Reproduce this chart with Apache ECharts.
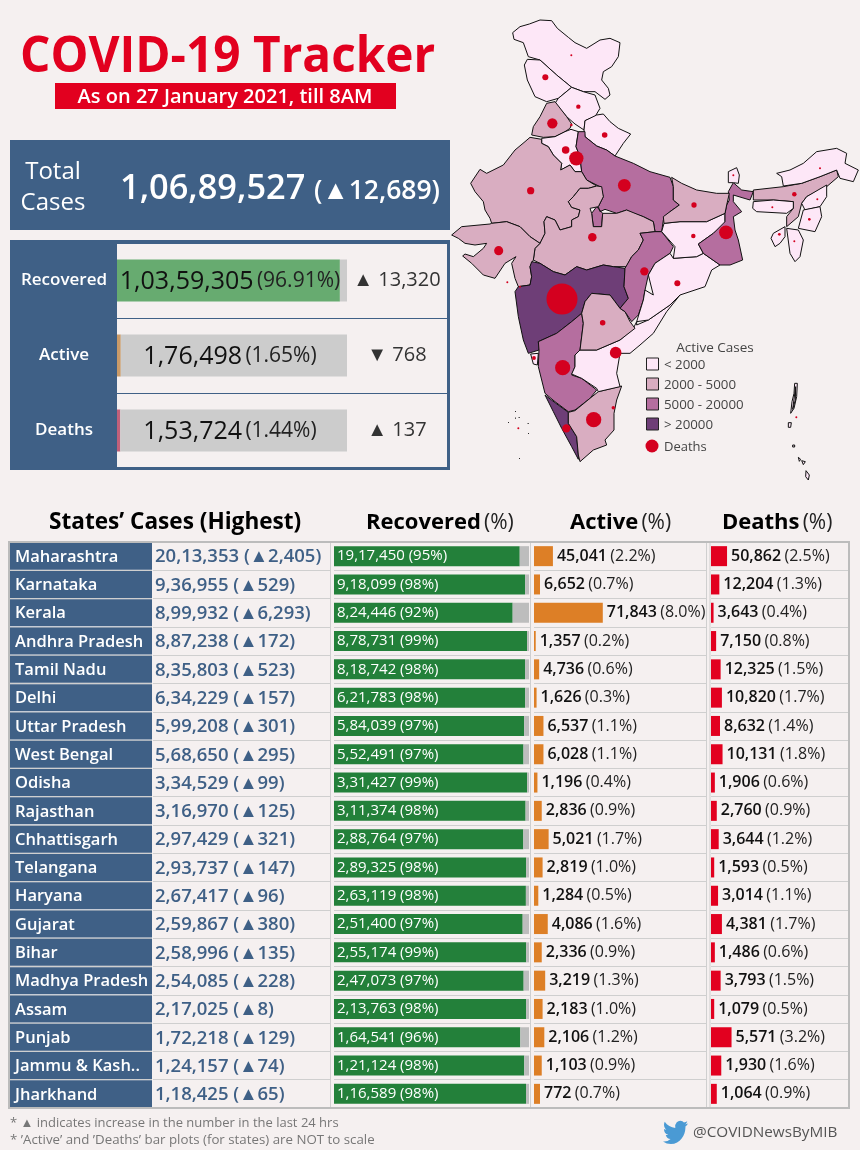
<!DOCTYPE html>
<html>
<head>
<meta charset="utf-8">
<title>COVID-19 Tracker</title>
<style>
html, body { margin: 0; padding: 0; background: #f5f0f0; }
#main { width: 860px; height: 1150px; }
</style>
<script src="https://cdn.jsdelivr.net/npm/echarts@6/dist/echarts.min.js"></script>
</head>
<body>
<div id="main"></div>
<script>
// summary block
var summaryNames = ['Recovered', 'Active', 'Deaths'];
var summaryCounts = [10359305, 176498, 153724];
var summaryPct = [96.91, 1.65, 1.44];
var summaryDelta = ['▲ 13,320', '▼ 768', '▲ 137'];

// states table
var states = ['Maharashtra', 'Karnataka', 'Kerala', 'Andhra Pradesh', 'Tamil Nadu', 'Delhi', 'Uttar Pradesh', 'West Bengal', 'Odisha', 'Rajasthan', 'Chhattisgarh', 'Telangana', 'Haryana', 'Gujarat', 'Bihar', 'Madhya Pradesh', 'Assam', 'Punjab', 'Jammu & Kash..', 'Jharkhand'];
var totals = [2013353, 936955, 899932, 887238, 835803, 634229, 599208, 568650, 334529, 316970, 297429, 293737, 267417, 259867, 258996, 254085, 217025, 172218, 124157, 118425];
var totalDelta = [2405, 529, 6293, 172, 523, 157, 301, 295, 99, 125, 321, 147, 96, 380, 135, 228, 8, 129, 74, 65];
var recovered = [1917450, 918099, 824446, 878731, 818742, 621783, 584039, 552491, 331427, 311374, 288764, 289325, 263119, 251400, 255174, 247073, 213763, 164541, 121124, 116589];
var recoveredPct = [95, 98, 92, 99, 98, 98, 97, 97, 99, 98, 97, 98, 98, 97, 99, 97, 98, 96, 98, 98];
var active = [45041, 6652, 71843, 1357, 4736, 1626, 6537, 6028, 1196, 2836, 5021, 2819, 1284, 4086, 2336, 3219, 2183, 2106, 1103, 772];
var activePct = [2.2, 0.7, 8.0, 0.2, 0.6, 0.3, 1.1, 1.1, 0.4, 0.9, 1.7, 1.0, 0.5, 1.6, 0.9, 1.3, 1.0, 1.2, 0.9, 0.7];
var deaths = [50862, 12204, 3643, 7150, 12325, 10820, 8632, 10131, 1906, 2760, 3644, 1593, 3014, 4381, 1486, 3793, 1079, 5571, 1930, 1064];
var deathsPct = [2.5, 1.3, 0.4, 0.8, 1.5, 1.7, 1.4, 1.8, 0.6, 0.9, 1.2, 0.5, 1.1, 1.7, 0.6, 1.5, 0.5, 3.2, 1.6, 0.9];

// map: active cases per region (small regions are estimates)
var mapRegions = ['Ladakh', 'Jammu & Kashmir', 'Himachal Pradesh', 'Punjab', 'Uttarakhand', 'Haryana', 'Delhi', 'Uttar Pradesh', 'Rajasthan', 'Madhya Pradesh', 'Gujarat', 'Maharashtra', 'Goa', 'Karnataka', 'Kerala', 'Tamil Nadu', 'Andhra Pradesh', 'Telangana', 'Chhattisgarh', 'Odisha', 'Jharkhand', 'West Bengal', 'Sikkim', 'Bihar', 'Assam', 'Meghalaya', 'Arunachal Pradesh', 'Nagaland', 'Manipur', 'Mizoram', 'Tripura', 'Andaman & Nicobar', 'Lakshadweep'];
var mapActive = [150, 1103, 400, 2106, 1500, 1284, 1626, 6537, 2836, 3219, 4086, 45041, 700, 6652, 71843, 4736, 1357, 2819, 5021, 1196, 772, 6028, 200, 2336, 2183, 200, 30, 100, 400, 50, 40, 20, 50];

// map: death bubbles, spot is in the map's own traced units
var deathPlaces = ['Ladakh', 'Jammu & Kashmir', 'Himachal Pradesh', 'Punjab', 'Chandigarh', 'Uttarakhand', 'Haryana', 'Delhi', 'Rajasthan', 'Uttar Pradesh', 'Bihar', 'Sikkim', 'Arunachal Pradesh', 'Assam', 'Nagaland', 'Meghalaya', 'Manipur', 'Tripura', 'Mizoram', 'Jharkhand', 'West Bengal', 'Madhya Pradesh', 'Gujarat', 'Daman', 'Dadra', 'Maharashtra', 'Chhattisgarh', 'Odisha', 'Telangana', 'Andhra Pradesh', 'Goa', 'Karnataka', 'Puducherry', 'Tamil Nadu', 'Kerala', 'Lakshadweep', 'Andaman & Nicobar'];
var deathSpots = [[394, 166], [316, 232], [415, 320], [337, 370], [394, 375], [494, 405], [377, 450], [409, 475], [272, 572], [553, 556], [762, 615], [880, 526], [1140, 505], [1063, 583], [1132, 598], [997, 622], [1108, 658], [1018, 703], [1063, 724], [760, 708], [858, 697], [457, 712], [176, 752], [202, 847], [240, 860], [366, 897], [613, 814], [712, 850], [488, 968], [527, 1058], [282, 1074], [368, 1103], [520, 1223], [461, 1259], [379, 1285], [235, 1285], [1069, 1252]];
var deathCounts = [130, 1930, 1030, 5571, 350, 1650, 3014, 10820, 2760, 8632, 1486, 135, 56, 1079, 90, 147, 370, 388, 20, 1064, 10131, 3793, 4381, 20, 20, 50862, 3644, 1906, 1593, 7150, 770, 12204, 650, 12325, 3643, 20, 62];

var legendLabels = ['< 2000', '2000 - 5000', '5000 - 20000', '> 20000'];
var legendColors = ['#fde7f7', '#d9adc1', '#b56e9f', '#6e3e77'];

// traced region outlines, one string per polygon
var regionShapes = {
    'Ladakh': ['218,98 240,80 268,72 300,60 335,62 352,85 385,112 405,128 440,145 480,120 510,115 540,128 535,170 515,200 490,215 485,240 505,265 510,285 495,298 465,275 430,275 395,262 350,225 300,180 265,170 250,128 222,118'],
    'Jammu & Kashmir': ['262,178 300,180 350,225 395,262 355,295 320,305 285,290 262,240 253,195'],
    'Himachal Pradesh': ['395,262 430,275 465,285 480,325 465,350 435,362 432,390 405,372 380,350 345,310 355,295'],
    'Punjab': ['345,305 380,350 395,372 390,385 375,395 345,410 310,412 275,405 280,380 300,350 320,310'],
    'Uttarakhand': ['435,362 470,345 490,342 510,365 535,385 572,402 550,430 525,468 500,450 470,438 435,410 432,390'],
    'Haryana': ['305,415 345,410 375,395 393,388 415,395 408,440 420,470 425,515 405,515 390,495 362,510 365,490 340,465 325,440 305,430'],
    'Delhi': ['403,462 418,462 421,482 406,486'],
    'Uttar Pradesh': ['435,395 435,410 470,438 500,450 525,468 580,490 630,515 690,532 700,560 700,600 718,615 690,635 670,660 665,695 645,695 640,665 610,650 580,640 560,630 530,640 495,628 480,635 475,620 490,590 480,560 440,540 425,515 420,470 408,440 415,395',
        '455,640 470,620 488,640 485,680 460,680'],
    'Rajasthan': ['270,412 305,418 305,430 325,440 340,465 365,490 362,510 390,495 405,515 425,515 440,540 470,558 445,565 420,565 400,590 385,605 395,622 420,630 415,650 395,660 395,680 360,690 345,660 320,650 312,665 315,700 300,730 270,710 240,680 200,665 155,670 150,655 135,630 130,605 105,575 92,550 120,508 140,520 190,495 225,450 255,425'],
    'Madhya Pradesh': ['485,560 490,590 475,620 450,625 455,640 460,680 485,680 488,640 530,640 560,630 610,650 640,665 645,695 600,700 610,720 595,750 575,770 560,800 520,800 490,795 440,810 410,800 375,825 340,815 300,790 280,780 285,745 300,730 315,700 312,665 320,650 345,660 360,690 395,680 395,660 415,650 420,630 395,622 385,605 400,590 420,565 445,565 470,558'],
    'Gujarat': ['35,705 65,680 150,672 155,670 200,665 240,680 270,710 300,730 285,745 280,780 270,800 275,830 270,855 235,860 225,835 215,790 228,770 195,790 165,835 130,825 95,790 68,768 75,762 100,770 130,745 140,730 105,735 75,730 55,715'],
    'Maharashtra': ['275,785 300,790 340,815 375,825 410,800 440,810 490,795 520,800 555,805 552,860 565,895 540,925 525,905 510,885 455,880 435,905 425,940 395,965 350,1000 295,1025 297,1050 265,1060 250,1020 235,950 225,875 235,860 270,855 275,830 270,800'],
    'Goa': ['272,1062 295,1060 292,1095 280,1092'],
    'Karnataka': ['295,1025 350,1000 395,965 425,940 430,970 420,1050 405,1065 405,1100 395,1125 425,1135 470,1170 450,1195 405,1230 385,1235 345,1205 315,1180 295,1100 297,1050'],
    'Kerala': ['315,1185 345,1208 385,1237 385,1270 410,1310 415,1365 415,1378 395,1340 365,1285 340,1235'],
    'Tamil Nadu': ['385,1237 405,1232 450,1195 475,1175 545,1158 530,1200 522,1240 522,1290 495,1320 500,1335 460,1350 420,1385 415,1365 410,1310 385,1270'],
    'Andhra Pradesh': ['590,965 590,975 625,960 690,915 720,885 680,935 640,1000 600,1035 570,1060 540,1060 530,1120 540,1160 475,1175 470,1165 425,1135 395,1122 405,1100 405,1065 420,1050 470,1050 540,1020 580,985'],
    'Telangana': ['455,880 510,885 525,905 540,925 555,935 570,965 585,985 540,1020 470,1050 420,1050 430,970 425,940 435,905'],
    'Chhattisgarh': ['600,700 645,695 665,695 700,740 690,760 645,790 625,825 615,870 610,900 595,945 575,965 555,935 540,925 565,895 552,860 555,805 575,770 595,750 610,720'],
    'Odisha': ['700,775 770,770 790,760 840,795 815,810 795,860 720,885 690,915 625,960 590,965 610,900 615,870 640,885 625,825 645,790 690,760'],
    'Jharkhand': ['672,670 720,665 800,665 855,640 855,670 820,700 775,732 790,760 770,770 700,775 705,740 665,695'],
    'West Bengal': ['820,700 855,665 855,640 860,615 868,600 865,575 880,548 905,570 940,575 930,600 880,585 880,605 905,635 880,650 885,690 895,720 908,780 870,795 840,795 790,760 775,732'],
    'Sikkim': ['865,515 890,503 898,525 895,550 880,548 865,548'],
    'Bihar': ['695,532 725,550 770,570 830,580 868,580 860,615 855,640 800,665 720,665 672,670 670,650 690,635 718,615 700,600 700,560'],
    'Assam': ['940,570 1030,560 1085,550 1140,530 1190,510 1195,530 1160,560 1100,590 1085,610 1075,650 1040,680 1040,650 1060,625 1060,605 1000,600 940,600'],
    'Meghalaya': ['940,605 1000,600 1060,605 1060,625 1040,640 950,635 938,625'],
    'Arunachal Pradesh': ['1010,520 1050,510 1090,490 1130,455 1190,445 1220,460 1215,490 1255,510 1240,545 1200,535 1190,510 1140,530 1085,550 1030,558 1025,530'],
    'Nagaland': ['1160,555 1160,590 1140,620 1095,630 1085,610 1100,590'],
    'Manipur': ['1090,630 1140,620 1145,650 1125,695 1075,685'],
    'Mizoram': ['1040,685 1075,690 1090,720 1080,770 1065,785 1050,760'],
    'Tripura': ['1000,700 1035,680 1035,710 1020,730 1005,740 993,715'],
    'Andaman & Nicobar': ['1064,1150 1072,1150 1070,1190 1062,1225 1052,1240 1056,1205 1062,1180', '1067,1160 1066,1200 1058,1228',
        '1045,1268 1054,1268 1052,1282 1045,1282', '1058,1335 1064,1335 1064,1341 1058,1341',
        '1075,1372 1082,1378 1078,1384', '1085,1382 1096,1385 1090,1394', '1098,1412 1108,1425 1105,1440 1097,1430'],
    'Lakshadweep': ['225,1233 227,1233 227,1235', '237,1252 239,1252 239,1254', '204,1266 206,1266 206,1268', '226,1254 228,1254 228,1256', '264,1270 266,1270 266,1272', '264,1299 266,1299 266,1301', '238,1375 240,1375 240,1377']
};

var BG = '#f5f0f0', BLUE = '#3f6086', RED = '#e2001f', TXT = 'Open Sans';
var BIRD = 'M23.953 4.57a10 10 0 0 1-2.825.775 4.958 4.958 0 0 0 2.163-2.723c-.951.555-2.005.959-3.127 1.184a4.92 4.92 0 0 0-8.384 4.482C7.69 8.095 4.067 6.13 1.64 3.162a4.822 4.822 0 0 0-.666 2.475c0 1.71.87 3.213 2.188 4.096a4.904 4.904 0 0 1-2.228-.616v.06a4.923 4.923 0 0 0 3.946 4.827 4.996 4.996 0 0 1-2.212.085 4.936 4.936 0 0 0 4.604 3.417 9.867 9.867 0 0 1-6.102 2.105c-.39 0-.779-.023-1.17-.067a13.995 13.995 0 0 0 7.557 2.209c9.053 0 13.998-7.496 13.998-13.985 0-.21 0-.42-.015-.63A9.935 9.935 0 0 0 24 4.59z';

function fmt(n) {
    return n.toLocaleString('en-IN');
}

function buildGeoJson() {
    return {
        type: 'FeatureCollection',
        features: mapRegions.map(function (name) {
            return {
                type: 'Feature',
                properties: { name: name },
                geometry: {
                    type: 'MultiPolygon',
                    coordinates: regionShapes[name].map(function (s) {
                        var ring = s.split(' ').map(function (p) {
                            return p.split(',').map(Number);
                        });
                        ring.push(ring[0]);
                        return [ring];
                    })
                }
            };
        })
    };
}

echarts.registerMap('india', buildGeoJson());
echarts.graphic.registerShape('twitterBird', echarts.graphic.extendPath(BIRD, {}));

var myChart = echarts.init(document.getElementById('main'));

// table grids all share the same rows
var TOP = 542, ROWS_H = 566;
var columns = [
    { left: 10, width: 142, max: 1 },
    { left: 153, width: 177, max: 4e7 },
    { left: 334, width: 196, max: 100.5 },
    { left: 534, width: 172, max: 20 },
    { left: 711, width: 138, max: 21.5 }
];

var grids = [
    { left: 117, top: 243, width: 230, height: 225, outerBoundsMode: 'none' },
    { left: 347, top: 243, width: 100, height: 225, outerBoundsMode: 'none' }
];
var xAxes = [
    { gridIndex: 0, type: 'value', min: 0, max: 100, show: false },
    { gridIndex: 1, type: 'value', min: 0, max: 100, show: false }
];
var blueSplit = { show: true, interval: 0, lineStyle: { color: BLUE, width: 1 } };
var yAxes = [
    {
        gridIndex: 0, type: 'category', inverse: true, data: summaryNames,
        axisLine: { show: false }, axisTick: { show: false }, splitLine: blueSplit,
        axisLabel: { interval: 0, color: '#fff', fontFamily: TXT, fontSize: 17, fontWeight: 600, align: 'center', margin: 53, padding: [6, 0, 0, 0] }
    },
    {
        gridIndex: 0, type: 'category', inverse: true, position: 'right', data: summaryDelta,
        axisLine: { show: false }, axisTick: { show: false }, splitLine: { show: false },
        axisLabel: { interval: 0, color: '#333', fontFamily: TXT, fontSize: 20, align: 'center', margin: 50, padding: [6, 0, 0, 0] }
    },
    {
        gridIndex: 1, type: 'category', inverse: true, data: summaryNames,
        axisLine: { show: false }, axisTick: { show: false }, axisLabel: { show: false }, splitLine: blueSplit
    }
];

columns.forEach(function (c, i) {
    grids.push({ left: c.left, top: TOP, width: c.width, height: ROWS_H, outerBoundsMode: 'none' });
    xAxes.push({ gridIndex: i + 2, type: 'value', min: 0, max: c.max, show: false });
    yAxes.push({
        gridIndex: i + 2, type: 'category', inverse: true, data: states,
        axisLine: { show: false }, axisTick: { show: false }, axisLabel: { show: false },
        splitLine: { show: true, interval: 0, lineStyle: { color: '#cfcfcf', width: 1 } }
    });
});

var summaryFills = ['#67ab70', '#c99a68', '#c0607a'];

// text beside the active and deaths bars: number a little heavier than the share
var sideRich = {
    a: { fontFamily: TXT, fontSize: 16, fontWeight: 600, color: '#111' },
    b: { fontFamily: TXT, fontSize: 16, color: '#222' }
};

var series = [
    {
        type: 'bar', xAxisIndex: 0, yAxisIndex: 0, stack: 'summary', barWidth: 42,
        data: summaryPct.map(function (v, i) {
            return { value: v, itemStyle: { color: summaryFills[i] } };
        })
    },
    {
        type: 'bar', xAxisIndex: 0, yAxisIndex: 0, stack: 'summary', barWidth: 42,
        itemStyle: { color: '#cccccc' },
        data: summaryPct.map(function (v) { return 100 - v; })
    },
    {
        // clear bar on top, only carries the centred text
        type: 'bar', xAxisIndex: 0, yAxisIndex: 0, barWidth: 42, barGap: '-100%',
        itemStyle: { color: 'transparent' },
        data: [100, 100, 100],
        label: {
            show: true, position: 'inside', offset: [-2, 1],
            formatter: function (p) {
                return '{a|' + fmt(summaryCounts[p.dataIndex]) + '} {b|(' + summaryPct[p.dataIndex].toFixed(2) + '%)}';
            },
            rich: {
                a: { fontFamily: TXT, fontSize: 25, color: '#111' },
                b: { fontFamily: TXT, fontSize: 21, color: '#222' }
            }
        }
    },
    // state names
    {
        type: 'bar', xAxisIndex: 2, yAxisIndex: 3, barWidth: 27,
        itemStyle: { color: BLUE },
        data: states.map(function () { return 1; }),
        label: {
            show: true, position: 'insideLeft', distance: 5, offset: [0, 1],
            color: '#fff', fontFamily: TXT, fontSize: 16.5, fontWeight: 600,
            formatter: function (p) { return states[p.dataIndex]; }
        }
    },
    // total cases, bar is clear and only anchors the text
    {
        type: 'bar', xAxisIndex: 3, yAxisIndex: 4, barWidth: 20,
        itemStyle: { color: 'transparent' },
        data: totals,
        label: {
            show: true, position: 'insideLeft', distance: 2, offset: [0, 1],
            color: BLUE, fontFamily: TXT, fontSize: 18.5, fontWeight: 600,
            formatter: function (p) {
                return fmt(totals[p.dataIndex]) + ' (▲' + fmt(totalDelta[p.dataIndex]) + ')';
            }
        }
    },
    // recovered
    {
        type: 'bar', xAxisIndex: 4, yAxisIndex: 5, stack: 'rec', barWidth: 20,
        itemStyle: { color: '#23803a' },
        data: recovered.map(function (v, i) { return v / totals[i] * 100; }),
        label: {
            show: true, position: 'insideLeft', distance: 3,
            color: '#fff', fontFamily: TXT, fontSize: 15,
            formatter: function (p) {
                return fmt(recovered[p.dataIndex]) + ' (' + recoveredPct[p.dataIndex] + '%)';
            }
        }
    },
    {
        type: 'bar', xAxisIndex: 4, yAxisIndex: 5, stack: 'rec', barWidth: 20,
        itemStyle: { color: '#bdbdbd' },
        data: recovered.map(function (v, i) { return 100 - v / totals[i] * 100; })
    },
    // active
    {
        type: 'bar', xAxisIndex: 5, yAxisIndex: 6, barWidth: 20,
        itemStyle: { color: '#dd7f26' },
        data: activePct,
        label: {
            show: true, position: 'right', distance: 4, rich: sideRich,
            formatter: function (p) {
                return '{a|' + fmt(active[p.dataIndex]) + '} {b|(' + activePct[p.dataIndex].toFixed(1) + '%)}';
            }
        }
    },
    // deaths
    {
        type: 'bar', xAxisIndex: 6, yAxisIndex: 7, barWidth: 20,
        itemStyle: { color: RED },
        data: deathsPct,
        label: {
            show: true, position: 'right', distance: 4, rich: sideRich,
            formatter: function (p) {
                return '{a|' + fmt(deaths[p.dataIndex]) + '} {b|(' + deathsPct[p.dataIndex].toFixed(1) + '%)}';
            }
        }
    },
    // map fill
    {
        id: 'mapFill', type: 'map', geoIndex: 0,
        data: mapRegions.map(function (n, i) { return { name: n, value: mapActive[i] }; })
    },
    // death bubbles, area follows the count
    {
        type: 'scatter', coordinateSystem: 'geo', z: 5, silent: true,
        itemStyle: { color: '#d4001f', opacity: 1 },
        symbolSize: function (v) { return Math.max(2, 0.1375 * Math.sqrt(v[2])); },
        data: deathSpots.map(function (s, i) { return [s[0], s[1], deathCounts[i]]; })
    }
];

function text(x, y, str, style, extra) {
    return Object.assign({
        type: 'text', x: x, y: y, z: 10, silent: true,
        style: Object.assign({ text: str, fontFamily: TXT, verticalAlign: 'middle', fill: '#000' }, style)
    }, extra);
}

function rect(x, y, w, h, style, z) {
    return { type: 'rect', z: z === undefined ? -1 : z, silent: true, shape: { x: x, y: y, width: w, height: h }, style: style };
}

function vline(x) {
    return { type: 'line', z: 1, silent: true, shape: { x1: x, y1: 542, x2: x, y2: 1108 }, style: { stroke: '#cfcfcf', lineWidth: 1 } };
}

var headRich = {
    a: { fontFamily: TXT, fontSize: 22, fontWeight: 700, fill: '#000' },
    b: { fontFamily: TXT, fontSize: 21, fill: '#222' },
    c: { fontFamily: TXT, fontSize: 22.6, fontWeight: 700, fill: '#000' }
};

var graphics = [
    text(20, 58, 'COVID-19 Tracker', { fontSize: 50, fontWeight: 700, fill: RED }, { scaleX: 0.955 }),
    rect(55, 83, 341, 26, { fill: RED }),
    text(225, 97, 'As on 27 January 2021, till 8AM', { fontSize: 20, fontWeight: 600, fill: '#fff', align: 'center' }),

    rect(10, 140, 440, 90, { fill: BLUE }),
    text(53, 172, 'Total', { fontSize: 24, fill: '#fff', align: 'center' }),
    text(53, 203, 'Cases', { fontSize: 24, fill: '#fff', align: 'center' }),
    text(120, 189, '1,06,89,527', { fontSize: 34.4, fontWeight: 600, fill: '#fff' }),
    text(314, 191, '(▲12,689)', { fontSize: 26.5, fontWeight: 600, fill: '#fff' }),

    rect(11.5, 241.5, 437, 227, { fill: BG, stroke: BLUE, lineWidth: 3 }),
    rect(10, 240, 107, 230, { fill: BLUE }),

    text(49, 523, '{c|States’ Cases (Highest)}', { rich: headRich }),
    text(366, 523, '{a|Recovered} {b|(%)}', { rich: headRich }),
    text(570, 523, '{a|Active} {b|(%)}', { rich: headRich }),
    text(722, 523, '{a|Deaths} {b|(%)}', { rich: headRich }),

    rect(9, 542, 840, 566, { fill: 'none', stroke: '#bcbcbc', lineWidth: 2 }, 3),
    vline(330.5), vline(530.5), vline(706.5), vline(710),

    text(10, 1123, '* ▲ indicates increase in the number in the last 24 hrs', { fontSize: 13, fill: '#777' }),
    text(10, 1140, '* ’Active’ and ’Deaths’ bar plots (for states) are NOT to scale', { fontSize: 13.3, fill: '#777' }),
    { type: 'twitterBird', x: 663, y: 1118, z: 10, scaleX: 25 / 24, scaleY: 24 / 20, silent: true, style: { fill: '#4a9ad4' } },
    text(693, 1133, '@COVIDNewsByMIB', { fontSize: 15.3, fill: '#555' }),

    // map legend
    text(715, 348, 'Active Cases', { fontSize: 13.5, fill: '#444', align: 'center' }),
    text(664, 447, 'Deaths', { fontSize: 13, fill: '#444' }),
    { type: 'circle', z: 10, silent: true, shape: { cx: 652, cy: 446, r: 6.5 }, style: { fill: '#d4001f' } }
];

legendLabels.forEach(function (lab, i) {
    graphics.push(rect(646.5, 358 + i * 20, 12, 12, { fill: legendColors[i], stroke: '#222', lineWidth: 1 }, 10));
    graphics.push(text(664, 365.5 + i * 20, lab, { fontSize: 13.3, fill: '#444' }));
});

var option = {
    animation: false,
    backgroundColor: BG,
    grid: grids,
    xAxis: xAxes,
    yAxis: yAxes,
    geo: {
        map: 'india', roam: false, silent: true, aspectScale: 1,
        projection: {
            project: function (p) { return [p[0], p[1]]; },
            unproject: function (p) { return [p[0], p[1]]; }
        },
        boundingCoords: [[0, 0], [1260, 1470]],
        left: 440, top: 0, width: 420, height: 490,
        itemStyle: { areaColor: legendColors[0], borderColor: '#111', borderWidth: 1 },
        emphasis: { disabled: true }
    },
    visualMap: {
        type: 'piecewise', show: false, seriesIndex: series.length - 2,
        pieces: [
            { lt: 2000, color: legendColors[0] },
            { gte: 2000, lt: 5000, color: legendColors[1] },
            { gte: 5000, lt: 20000, color: legendColors[2] },
            { gte: 20000, color: legendColors[3] }
        ]
    },
    graphic: graphics,
    series: series
};

myChart.setOption(option);
</script>
</body>
</html>
